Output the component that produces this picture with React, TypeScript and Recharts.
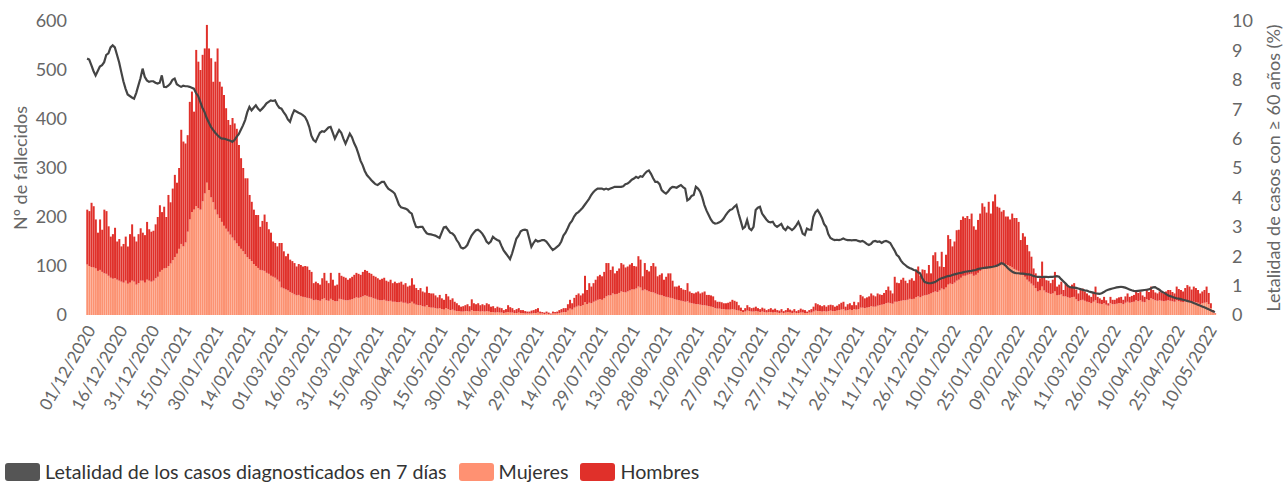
import React from 'react';
import { ComposedChart, Bar, Line, XAxis, YAxis } from 'recharts';

// Daily deaths of women (bottom stack), one value per day from 01/12/2020
const mujeres: number[] = [
  103,100,98,97,95,90,92,88,85,84,80,76,74,75,72,70,68,66,70,64,66,70,68,62,65,70,70,66,72,70,68,
  70,75,78,88,92,95,96,100,105,112,118,125,135,145,140,148,170,195,210,215,222,218,215,232,248,270,255,240,230,215,205,
  198,190,182,176,170,164,158,152,146,140,135,130,124,118,114,110,104,100,96,92,91,90,86,84,80,78,76,72,68,
  56,54,52,50,47,45,42,40,41,38,37,36,35,34,33,30,31,30,29,32,34,30,29,33,30,28,28,33,32,31,30,
  30,31,32,34,36,35,36,38,40,39,37,36,34,33,31,30,30,31,29,28,29,27,27,26,26,27,25,25,23,24,
  27,23,21,20,20,18,17,20,16,15,15,14,13,14,12,11,14,12,10,11,9,8,8,7,7,8,8,7,10,8,8,
  8,7,8,7,8,7,6,6,5,6,5,5,4,5,6,5,5,4,4,5,4,4,3,3,3,3,4,4,5,3,
  3,2,3,2,1,3,3,3,4,5,6,6,9,13,11,15,17,19,18,20,26,22,25,24,27,29,31,32,31,34,38,
  40,40,44,42,43,45,48,47,46,48,50,52,52,54,58,56,50,52,50,48,47,46,44,42,41,40,38,37,36,35,34,32,
  31,30,29,28,27,28,25,24,23,22,22,21,20,20,19,18,17,16,14,13,13,12,12,11,11,11,12,11,10,9,
  8,6,7,9,8,7,7,8,7,6,7,6,5,6,6,5,6,5,4,5,4,5,6,5,4,5,4,4,5,5,4,
  4,5,5,7,9,8,8,7,8,7,8,9,8,8,9,10,11,12,9,10,11,10,12,11,12,15,15,14,15,16,
  18,17,17,19,20,21,22,24,25,24,23,27,27,28,29,30,30,31,33,32,33,36,38,36,39,40,41,42,44,46,48,
  47,50,54,52,56,62,64,63,66,70,72,76,80,80,82,83,84,80,82,86,90,94,95,94,98,96,99,102,100,101,104,106,
  104,102,100,97,94,92,90,84,82,78,72,68,64,60,55,48,50,58,50,46,45,43,44,48,40,41,42,38,
  38,36,35,36,37,32,28,30,31,29,27,26,24,27,30,24,23,22,24,21,19,24,22,22,23,24,24,22,25,27,25,
  26,27,30,28,30,27,26,32,30,34,32,30,29,30,29,28,29,30,29,28,27,30,28,27,26,28,29,28,26,27,
  26,25,22,24,25,26,22,14,6,3,
];

// Daily deaths of men (top stack)
const hombres: number[] = [
  112,112,131,125,100,78,103,86,130,128,101,84,91,103,78,85,72,79,90,76,99,115,92,88,100,107,98,97,118,105,102,
  102,110,122,136,118,126,104,145,125,146,168,145,165,233,214,202,197,240,246,200,319,299,285,299,296,322,289,284,246,302,339,
  278,276,267,246,228,224,244,239,234,207,185,170,155,161,131,121,111,104,108,88,101,115,104,91,88,72,71,68,79,
  91,76,68,75,66,65,64,59,63,64,62,64,64,58,55,35,37,35,33,43,52,40,36,53,42,32,34,53,48,47,46,
  42,44,46,48,50,49,46,50,52,51,49,48,46,45,44,42,44,45,41,40,43,38,41,39,40,41,37,40,35,36,
  48,39,34,31,35,30,29,38,29,29,29,26,23,27,22,20,29,26,21,23,18,16,12,10,11,12,14,11,22,16,14,
  16,13,14,13,16,15,11,12,9,11,10,9,6,7,14,11,9,6,8,9,6,6,5,4,4,6,6,8,9,4,
  3,3,4,3,2,4,3,4,6,7,8,8,13,18,13,20,24,25,22,24,54,29,40,34,38,43,48,50,48,54,68,
  66,52,55,43,47,50,58,56,51,51,53,54,48,45,62,57,29,54,42,41,53,60,55,37,41,45,34,41,49,50,36,26,
  27,30,26,24,24,37,23,21,21,24,26,23,26,28,22,23,23,22,16,14,14,14,12,13,14,16,19,18,17,11,
  7,4,7,11,8,7,8,9,7,6,8,7,5,6,8,6,7,5,5,7,4,5,8,6,5,7,4,6,8,6,6,
  3,5,7,10,15,14,12,11,12,10,12,12,12,9,10,12,14,15,8,12,13,10,15,9,14,26,23,20,21,22,
  26,23,21,25,22,20,23,27,33,26,21,51,39,37,43,46,40,34,39,43,37,54,61,44,54,52,44,60,41,76,80,
  63,49,75,46,67,101,91,77,84,103,102,118,121,118,120,113,123,101,92,108,117,134,126,115,133,111,133,144,121,118,107,108,
  97,99,95,110,104,106,100,69,85,82,71,62,55,35,30,20,25,51,28,25,25,22,28,40,18,21,26,13,
  27,24,23,26,28,20,16,21,23,19,17,14,13,18,28,13,11,9,13,9,5,13,9,9,11,12,13,9,13,17,12,
  13,14,21,17,18,13,11,19,17,24,19,16,15,18,17,16,19,21,22,19,17,28,25,24,22,27,32,30,26,31,
  29,26,22,24,26,32,23,10,4,1,
];

// Lethality of cases diagnosed in 7 days, >= 60 years (%)
const letalidad: number[] = [
  8.72,8.69,8.5,8.3,8.15,8.3,8.45,8.5,8.6,8.85,
  8.9,9.1,9.17,9.1,8.85,8.6,8.27,7.95,7.7,7.5,
  7.45,7.4,7.36,7.55,7.8,8.05,8.38,8.1,7.98,7.93,
  7.95,7.95,7.9,7.87,7.9,8.15,7.76,7.75,7.8,7.87,
  8.0,8.04,7.85,7.8,7.76,7.8,7.78,7.78,7.76,7.73,
  7.7,7.55,7.45,7.25,7.05,6.9,6.7,6.55,6.4,6.3,
  6.2,6.12,6.05,6.0,6.0,5.98,5.95,5.93,5.89,5.95,
  6.06,6.15,6.3,6.45,6.63,6.9,7.08,6.96,7.05,7.13,
  7.02,6.95,7.02,7.1,7.2,7.25,7.3,7.28,7.3,7.15,7.05,
  7.02,6.9,6.8,6.65,6.57,6.8,6.96,6.92,6.88,6.85,
  6.8,6.74,6.6,6.4,6.1,5.95,5.89,6.05,6.2,6.25,
  6.23,6.3,6.38,6.4,6.2,6.0,6.15,6.29,6.2,6.0,
  5.83,6.0,6.17,6.05,5.85,5.7,5.49,5.25,5.1,4.9,
  4.76,4.68,4.59,4.52,4.45,4.42,4.48,4.53,4.53,4.4,
  4.3,4.25,4.2,4.13,3.95,3.75,3.66,3.64,3.62,3.58,
  3.5,3.45,3.2,3.0,2.98,3.0,3.0,2.88,2.78,2.75,
  2.74,2.72,2.7,2.66,2.62,2.8,2.98,3.0,2.9,2.8,
  2.77,2.7,2.55,2.45,2.3,2.26,2.3,2.38,2.55,2.7,
  2.8,2.88,2.9,2.85,2.77,2.65,2.5,2.43,2.5,2.66,
  2.6,2.55,2.52,2.35,2.2,2.1,2.0,1.9,2.1,2.35,
  2.6,2.7,2.85,2.89,2.9,2.88,2.6,2.32,2.45,2.55,
  2.5,2.52,2.55,2.55,2.5,2.4,2.3,2.21,2.26,2.32,
  2.38,2.5,2.7,2.8,2.95,3.11,3.2,3.35,3.45,3.5,
  3.57,3.65,3.75,3.85,3.95,4.08,4.18,4.25,4.3,4.3,
  4.3,4.27,4.3,4.27,4.3,4.33,4.36,4.36,4.36,4.36,4.38,
  4.45,4.47,4.53,4.6,4.64,4.7,4.66,4.72,4.7,4.8,
  4.88,4.92,4.8,4.65,4.53,4.53,4.45,4.25,4.18,4.13,
  4.2,4.3,4.36,4.35,4.33,4.38,4.42,4.35,4.3,3.9,
  3.95,4.05,4.08,4.36,4.3,4.2,4.0,3.74,3.55,3.4,
  3.25,3.15,3.11,3.12,3.15,3.2,3.28,3.4,3.5,3.57,
  3.6,3.68,3.74,3.45,3.2,2.94,3.0,3.23,2.95,2.89,
  3.0,3.57,3.65,3.68,3.45,3.35,3.25,3.17,3.15,3.17,
  3.05,3.0,3.05,3.1,2.95,2.89,3.0,2.95,2.89,2.95,
  3.05,3.17,3.0,2.77,2.72,2.94,2.9,2.9,3.34,3.5,
  3.57,3.45,3.3,3.1,3.0,2.75,2.62,2.58,2.55,2.56,
  2.55,2.57,2.6,2.57,2.55,2.55,2.54,2.55,2.55,2.52,
  2.5,2.52,2.48,2.42,2.38,2.42,2.5,2.52,2.49,2.5,
  2.45,2.5,2.52,2.49,2.45,2.32,2.2,2.05,1.98,1.85,
  1.76,1.7,1.64,1.6,1.57,1.53,1.52,1.45,1.42,1.25,
  1.13,1.1,1.08,1.08,1.1,1.12,1.17,1.22,1.25,1.27,
  1.3,1.32,1.33,1.36,1.38,1.4,1.42,1.43,1.45,1.47,
  1.48,1.49,1.5,1.52,1.53,1.56,1.58,1.59,1.6,1.61,1.62,
  1.63,1.64,1.66,1.68,1.72,1.76,1.74,1.68,1.6,1.53,
  1.48,1.44,1.42,1.42,1.41,1.41,1.4,1.38,1.38,1.36,
  1.33,1.31,1.3,1.3,1.29,1.3,1.3,1.29,1.3,1.3,
  1.31,1.32,1.3,1.22,1.15,1.08,1.0,0.95,0.94,0.93,
  0.92,0.9,0.88,0.86,0.84,0.83,0.8,0.78,0.76,0.74,
  0.73,0.72,0.74,0.78,0.83,0.86,0.88,0.9,0.92,0.94,
  0.95,0.96,0.95,0.93,0.9,0.87,0.84,0.82,0.81,0.82,
  0.83,0.84,0.85,0.86,0.87,0.9,0.94,0.95,0.9,0.86,
  0.8,0.76,0.72,0.67,0.64,0.62,0.59,0.57,0.56,0.54,
  0.52,0.5,0.48,0.46,0.44,0.41,0.38,0.35,0.32,0.29,
  0.26,0.23,0.2,0.16,0.13,0.1,
];

const tickLabels: string[] = [
  '01/12/2020','16/12/2020','31/12/2020','15/01/2021','30/01/2021','14/02/2021','01/03/2021',
  '16/03/2021','31/03/2021','15/04/2021','30/04/2021','15/05/2021','30/05/2021','14/06/2021',
  '29/06/2021','14/07/2021','29/07/2021','13/08/2021','28/08/2021','12/09/2021','27/09/2021',
  '12/10/2021','27/10/2021','11/11/2021','26/11/2021','11/12/2021','26/12/2021','10/01/2022',
  '25/01/2022','09/02/2022','24/02/2022','11/03/2022','26/03/2022','10/04/2022','25/04/2022',
  '10/05/2022',
];
const leftTicks = [0, 100, 200, 300, 400, 500, 600];
const rightTicks = [0, 1, 2, 3, 4, 5, 6, 7, 8, 9, 10];

const pad = (n: number) => String(n).padStart(2, '0');
// Categories: consecutive days starting 01/12/2020
const fechas: string[] = mujeres.map((_, i) => {
  const d = new Date(Date.UTC(2020, 11, 1 + i));
  return `${pad(d.getUTCDate())}/${pad(d.getUTCMonth() + 1)}/${d.getUTCFullYear()}`;
});

const data = fechas.map((fecha, i) => ({
  fecha,
  mujeres: mujeres[i],
  hombres: hombres[i],
  letalidad: letalidad[i],
}));

const FONT = 'Lato, "Source Sans Pro", sans-serif';
const GRAY = '#666';

const DateTick = (props: any) => {
  const { x, y, payload } = props;
  return (
    <text
      x={0}
      y={0}
      transform={`translate(${x + 9},${y + 15}) rotate(-60)`}
      textAnchor="end"
      fill={GRAY}
      fontSize={17}
      fontFamily={FONT}
    >
      {payload.value}
    </text>
  );
};

const LeftTitle = (props: any) => {
  const vb = props.viewBox || { x: 0, y: 21, width: 86, height: 294 };
  const cx = vb.x + 20;
  const cy = vb.y + vb.height / 2;
  return (
    <text x={cx} y={cy} transform={`rotate(-90, ${cx}, ${cy})`} textAnchor="middle" dominantBaseline="central" fill={GRAY} fontSize={18} fontFamily={FONT}>
      Nº de fallecidos
    </text>
  );
};

const RightTitle = (props: any) => {
  const vb = props.viewBox || { x: 1216, y: 21, width: 68, height: 294 };
  const cx = vb.x + 57;
  const cy = vb.y + vb.height / 2;
  return (
    <text x={cx} y={cy} transform={`rotate(-90, ${cx}, ${cy})`} textAnchor="middle" dominantBaseline="central" fill={GRAY} fontSize={18} fontFamily={FONT}>
      Letalidad de casos con ≥ 60 años (%)
    </text>
  );
};

const legendItems = [
  { label: 'Letalidad de los casos diagnosticados en 7 días', color: '#555555' },
  { label: 'Mujeres', color: '#FF9172' },
  { label: 'Hombres', color: '#E0302A' },
];

export default function App() {
  return (
    <div style={{ position: 'absolute', left: 0, top: 0, width: 1284, height: 482, background: '#fff', fontFamily: FONT }}>
      <ComposedChart
        width={1284}
        height={430}
        data={data}
        margin={{ top: 21, right: 0, left: 0, bottom: 0 }}
        barCategoryGap="13%"
      >
        <XAxis
          dataKey="fecha"
          ticks={tickLabels}
          interval={0}
          tick={<DateTick />}
          axisLine={false}
          tickLine={false}
          tickSize={0}
          tickMargin={0}
          height={115}
        />
        <YAxis
          yAxisId="left"
          domain={[0, 600]}
          ticks={leftTicks}
          width={86}
          axisLine={false}
          tickLine={false}
          tickMargin={13}
          tick={{ fill: GRAY, fontSize: 18, fontFamily: FONT }}
          label={(p: any) => <LeftTitle {...p} />}
        />
        <YAxis
          yAxisId="right"
          orientation="right"
          domain={[0, 10]}
          ticks={rightTicks}
          width={68}
          axisLine={false}
          tickLine={false}
          tickMargin={10}
          tick={{ fill: GRAY, fontSize: 18, fontFamily: FONT }}
          label={(p: any) => <RightTitle {...p} />}
        />
        <Bar yAxisId="left" dataKey="mujeres" stackId="s" fill="#FC9272" isAnimationActive={false} />
        <Bar yAxisId="left" dataKey="hombres" stackId="s" fill="#E0302A" isAnimationActive={false} />
        <Line
          yAxisId="right"
          dataKey="letalidad"
          type="linear"
          stroke="#444444"
          strokeWidth={2.2}
          dot={false}
          activeDot={false}
          isAnimationActive={false}
        />
      </ComposedChart>
      <div style={{ position: 'absolute', left: 5, top: 462, display: 'flex', alignItems: 'center', fontSize: 19.7, color: '#333', whiteSpace: 'nowrap', lineHeight: '20px' }}>
        {legendItems.map((it, k) => (
          <div key={it.label} style={{ display: 'flex', alignItems: 'center', marginLeft: k === 0 ? 0 : 12 }}>
            <span style={{ display: 'inline-block', width: 35, height: 18, background: it.color, borderRadius: 3, marginRight: 5 }} />
            <span>{it.label}</span>
          </div>
        ))}
      </div>
    </div>
  );
}
